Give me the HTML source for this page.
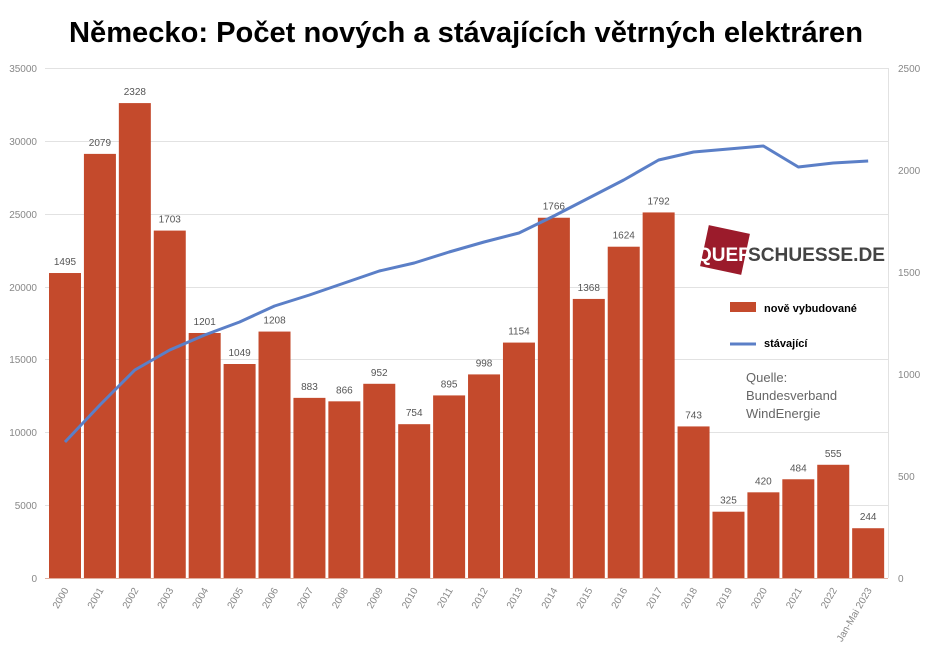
<!DOCTYPE html>
<html><head><meta charset="utf-8"><style>
html,body{margin:0;padding:0;background:#fff;}
svg{display:block;font-family:"Liberation Sans",sans-serif;}
</style></head><body>
<svg width="933" height="662" viewBox="0 0 933 662" xmlns="http://www.w3.org/2000/svg">
<rect x="0" y="0" width="933" height="662" fill="#fff"/>
<text x="466" y="42" text-anchor="middle" font-size="29" font-weight="bold" fill="#000" textLength="794" lengthAdjust="spacingAndGlyphs">Německo: Počet nových a stávajících větrných elektráren</text>
<g stroke="#e2e2e2" stroke-width="1">
<line x1="45" y1="68.5" x2="888" y2="68.5"/>
<line x1="45" y1="141.5" x2="888" y2="141.5"/>
<line x1="45" y1="214.5" x2="888" y2="214.5"/>
<line x1="45" y1="287.5" x2="888" y2="287.5"/>
<line x1="45" y1="359.5" x2="888" y2="359.5"/>
<line x1="45" y1="432.5" x2="888" y2="432.5"/>
<line x1="45" y1="505.5" x2="888" y2="505.5"/>
<line x1="888.5" y1="68" x2="888.5" y2="578"/>
</g>
<g font-size="10" fill="#888" text-anchor="end">
<text x="37" y="72">35000</text><text x="37" y="145">30000</text><text x="37" y="218">25000</text>
<text x="37" y="291">20000</text><text x="37" y="363">15000</text><text x="37" y="436">10000</text>
<text x="37" y="509">5000</text><text x="37" y="582">0</text>
</g>
<g font-size="10" fill="#888">
<text x="898" y="72">2500</text><text x="898" y="174">2000</text><text x="898" y="276">1500</text>
<text x="898" y="378">1000</text><text x="898" y="480">500</text><text x="898" y="582">0</text>
</g>
<g id="bars" fill="#c44a2c"></g>
<g id="labels" font-size="10" fill="#555" text-anchor="middle"></g>
<g id="xl" font-size="10" fill="#888" text-anchor="end"></g>
<polyline id="ln" fill="none" stroke="#5b7fc7" stroke-width="3" stroke-linejoin="round"/>
<rect x="704" y="229" width="42" height="42" fill="#9b1b2b" transform="rotate(12 725 250)"/>
<text x="697" y="261" font-size="19" font-weight="bold" fill="#fff">QUER</text>
<text x="748" y="261" font-size="19" font-weight="bold" fill="#444" textLength="137" lengthAdjust="spacingAndGlyphs">SCHUESSE.DE</text>
<rect x="730" y="302" width="26" height="10" fill="#c44a2c"/>
<text x="764" y="312" font-size="11" font-weight="bold" fill="#000">nově vybudované</text>
<line x1="730" y1="344" x2="756" y2="344" stroke="#5b7fc7" stroke-width="3"/>
<text x="764" y="347" font-size="11" font-weight="bold" fill="#000">stávající</text>
<g font-size="13" fill="#666">
<text x="746" y="382">Quelle:</text><text x="746" y="400">Bundesverband</text><text x="746" y="418">WindEnergie</text>
</g>
<line x1="45" y1="578.5" x2="888" y2="578.5" stroke="#e0b0a0" stroke-width="1"/>
<script>
var v=[1495,2079,2328,1703,1201,1049,1208,883,866,952,754,895,998,1154,1766,1368,1624,1792,743,325,420,484,555,244];
var yrs=["2000","2001","2002","2003","2004","2005","2006","2007","2008","2009","2010","2011","2012","2013","2014","2015","2016","2017","2018","2019","2020","2021","2022","Jan-Mai 2023"];
var ly=[442,405,370,350,335,322,306,295,283,271,263,252,242,233,216,198,180,160,152,149,146,167,163,161];
var ns="http://www.w3.org/2000/svg",b=document.getElementById("bars"),l=document.getElementById("labels"),xl=document.getElementById("xl"),pts=[];
for(var i=0;i<24;i++){var x=49+i*34.92,h=v[i]*0.204,y=578-h;
var r=document.createElementNS(ns,"rect");r.setAttribute("x",x);r.setAttribute("y",y);r.setAttribute("width",32);r.setAttribute("height",h);b.appendChild(r);
var t=document.createElementNS(ns,"text");t.setAttribute("x",x+16);t.setAttribute("y",y-8);t.textContent=v[i];l.appendChild(t);
var cx=x+16;var u=document.createElementNS(ns,"text");u.setAttribute("transform","translate("+(cx+4)+",590) rotate(-60)");u.textContent=yrs[i];xl.appendChild(u);
pts.push(cx+","+ly[i]);}
document.getElementById("ln").setAttribute("points",pts.join(" "));
</script>
</svg>
</body></html>
